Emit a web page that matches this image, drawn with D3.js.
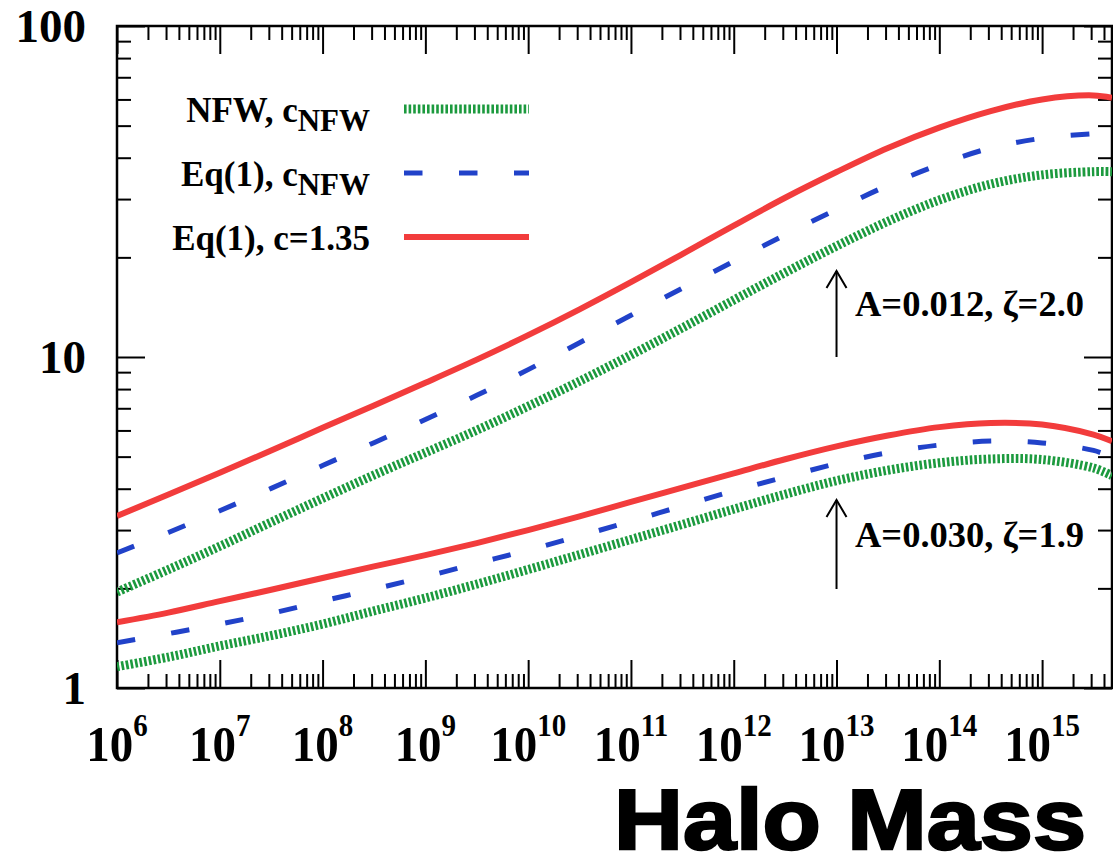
<!DOCTYPE html>
<html>
<head>
<meta charset="utf-8">
<script src="https://cdn.jsdelivr.net/npm/d3@7"></script>
<style>
  html, body { margin: 0; padding: 0; background: #ffffff; }
  svg { display: block; }
</style>
</head>
<body>
<svg id="chart" width="1113" height="857"></svg>
<script>
// ---------------- data ----------------
// log10 of the halo mass at each sample
const massExponent = [6, 6.5, 7, 7.5, 8, 8.5, 9, 9.5, 10, 10.5, 11, 11.5, 12, 12.5, 13, 13.5, 14, 14.5, 15, 15.5, 15.68];

// upper group: A=0.012, zeta=2.0
const nfwUpper     = [1.95, 2.28, 2.68, 3.17, 3.74, 4.40, 5.14, 6.01, 7.10, 8.45, 10.14, 12.25, 14.86, 17.99, 21.63, 25.7, 29.8, 33.3, 35.5, 36.3, 36.3];
const eq1NfwUpper  = [2.56, 2.95, 3.43, 4.01, 4.70, 5.51, 6.47, 7.66, 9.16, 11.04, 13.37, 16.14, 19.45, 23.4, 27.9, 33.0, 38.1, 42.8, 45.8, 47.3, 47.6];
const eq1C135Upper = [3.31, 3.84, 4.47, 5.22, 6.11, 7.14, 8.36, 9.82, 11.64, 13.93, 16.83, 20.46, 24.95, 30.27, 36.2, 42.8, 49.3, 55.3, 60.0, 61.7, 60.7];

// lower group: A=0.030, zeta=1.9
const nfwLower     = [1.16, 1.24, 1.34, 1.44, 1.56, 1.71, 1.87, 2.06, 2.28, 2.53, 2.81, 3.12, 3.47, 3.85, 4.23, 4.55, 4.79, 4.92, 4.90, 4.62, 4.38];
const eq1NfwLower  = [1.37, 1.46, 1.56, 1.68, 1.83, 1.99, 2.17, 2.38, 2.61, 2.88, 3.19, 3.55, 3.94, 4.34, 4.76, 5.14, 5.42, 5.57, 5.50, 5.22, 4.98];
const eq1C135Lower = [1.58, 1.69, 1.83, 1.98, 2.15, 2.33, 2.52, 2.74, 3.00, 3.30, 3.65, 4.03, 4.45, 4.91, 5.37, 5.79, 6.14, 6.32, 6.25, 5.83, 5.57];

// axis ticks / labels
const xMajorExponents = [6, 7, 8, 9, 10, 11, 12, 13, 14, 15];
const yMajorTicks = [1, 10, 100];
const yTickLabels = ["1", "10", "100"];

// legend & annotations
const legendLabels = [
  { main: "NFW, c", sub: "NFW", style: "nfw" },
  { main: "Eq(1), c", sub: "NFW", style: "eq1nfw" },
  { main: "Eq(1), c=1.35", sub: "", style: "eq1c" }
];
const annotationTexts = ["A=0.012, \u03B6=2.0", "A=0.030, \u03B6=1.9"];
const annotationMassExp = [13, 13];
const xAxisTitle = "Halo Mass";

// ---------------- drawing ----------------
const W = 1113, H = 857;
const mLeft = 117, mRight = 1112, mTop = 26, mBottom = 688;
const xMax = Math.pow(10, 15.68);

const x = d3.scaleLog().domain([1e6, xMax]).range([mLeft, mRight]);
const y = d3.scaleLog().domain([1, 100]).range([mBottom, mTop]);

const svg = d3.select("#chart");
svg.append("rect").attr("width", W).attr("height", H).attr("fill", "#fff");

const styles = {
  nfw:    { color: "#1c9a3e", width: 9, dash: "2.6,2" },
  eq1nfw: { color: "#2142c9", width: 5, dash: "18.5,36.5" },
  eq1c:   { color: "#f23c3c", width: 6, dash: null }
};

// minor tick values
const xMinor = [];
for (let e = 6; e <= 15; e++) for (let k = 2; k <= 9; k++) {
  const v = k * Math.pow(10, e);
  if (v < xMax) xMinor.push(v);
}
const xMajor = xMajorExponents.map(e => Math.pow(10, e));
const yMinor = [];
for (let e = 0; e <= 1; e++) for (let k = 2; k <= 9; k++) yMinor.push(k * Math.pow(10, e));

function styleAxis(g) {
  g.select(".domain").remove();
  g.selectAll("line").attr("stroke", "#000").attr("stroke-width", 2);
  g.selectAll("text").remove();
}
// bottom
svg.append("g").attr("transform", `translate(0,${mBottom})`)
  .call(d3.axisBottom(x).tickValues(xMinor).tickSize(-14).tickFormat("")).call(styleAxis);
svg.append("g").attr("transform", `translate(0,${mBottom})`)
  .call(d3.axisBottom(x).tickValues(xMajor).tickSize(-28).tickFormat("")).call(styleAxis);
// top
svg.append("g").attr("transform", `translate(0,${mTop})`)
  .call(d3.axisTop(x).tickValues(xMinor).tickSize(-14).tickFormat("")).call(styleAxis);
svg.append("g").attr("transform", `translate(0,${mTop})`)
  .call(d3.axisTop(x).tickValues(xMajor).tickSize(-28).tickFormat("")).call(styleAxis);
// left
svg.append("g").attr("transform", `translate(${mLeft},0)`)
  .call(d3.axisLeft(y).tickValues(yMinor).tickSize(-14).tickFormat("")).call(styleAxis);
svg.append("g").attr("transform", `translate(${mLeft},0)`)
  .call(d3.axisLeft(y).tickValues(yMajorTicks).tickSize(-28).tickFormat("")).call(styleAxis);
// right
svg.append("g").attr("transform", `translate(${mRight},0)`)
  .call(d3.axisRight(y).tickValues(yMinor).tickSize(-14).tickFormat("")).call(styleAxis);
svg.append("g").attr("transform", `translate(${mRight},0)`)
  .call(d3.axisRight(y).tickValues(yMajorTicks).tickSize(-28).tickFormat("")).call(styleAxis);

// frame
svg.append("rect").attr("x", mLeft).attr("y", mTop)
  .attr("width", mRight - mLeft).attr("height", mBottom - mTop)
  .attr("fill", "none").attr("stroke", "#000").attr("stroke-width", 2.5);

// tick labels
const serif = "'Liberation Serif', 'Times New Roman', serif";
svg.append("g").selectAll("text").data(yMajorTicks).join("text")
  .attr("x", 86).attr("y", d => y(d) + 16)
  .attr("text-anchor", "end")
  .attr("font-family", serif).attr("font-weight", "bold").attr("font-size", 47)
  .text((d, i) => yTickLabels[i]);

const xl = svg.append("g").selectAll("text").data(xMajorExponents).join("text")
  .attr("transform", d => `translate(${x(Math.pow(10, d))},761) scale(1,1.1)`)
  .attr("text-anchor", "middle")
  .attr("font-family", serif).attr("font-weight", "bold").attr("font-size", 47);
xl.append("tspan").text("10");
xl.append("tspan").attr("dy", -23).attr("font-size", 29).text(d => d);

// curves
const defs = svg.append("defs");
defs.append("clipPath").attr("id", "plotclip").append("rect")
  .attr("x", mLeft).attr("y", mTop).attr("width", mRight - mLeft).attr("height", mBottom - mTop);

const line = d3.line()
  .x((d, i) => x(Math.pow(10, massExponent[i])))
  .y(d => y(d))
  .curve(d3.curveCatmullRom.alpha(0.5));

const series = [
  { values: nfwUpper, style: "nfw" },
  { values: nfwLower, style: "nfw" },
  { values: eq1NfwUpper, style: "eq1nfw" },
  { values: eq1NfwLower, style: "eq1nfw" },
  { values: eq1C135Upper, style: "eq1c" },
  { values: eq1C135Lower, style: "eq1c" }
];
const curves = svg.append("g").attr("clip-path", "url(#plotclip)");
series.forEach(s => {
  const st = styles[s.style];
  curves.append("path").datum(s.values)
    .attr("d", line)
    .attr("fill", "none")
    .attr("stroke", st.color)
    .attr("stroke-width", st.width)
    .attr("stroke-dasharray", st.dash);
});

// legend
const legendRowY = [109, 173, 237];
legendLabels.forEach((L, i) => {
  const st = styles[L.style];
  const yy = legendRowY[i];
  svg.append("line").attr("x1", 404).attr("x2", 529).attr("y1", yy).attr("y2", yy)
    .attr("stroke", st.color).attr("stroke-width", st.width)
    .attr("stroke-dasharray", st.dash);
  const t = svg.append("text").attr("x", 370).attr("y", yy + 13)
    .attr("text-anchor", "end")
    .attr("font-family", serif).attr("font-weight", "bold").attr("font-size", 35);
  t.append("tspan").text(L.main);
  if (L.sub) t.append("tspan").attr("dy", 9).attr("font-size", 31).text(L.sub);
});

// annotations with arrows
const annoTextY = [316, 547];
const arrowTipY = [271, 500];
const arrowTailY = [357, 589];
annotationTexts.forEach((txt, i) => {
  const ax = x(Math.pow(10, annotationMassExp[i]));
  const g = svg.append("g").attr("stroke", "#000").attr("stroke-width", 2).attr("fill", "none");
  g.append("line").attr("x1", ax).attr("x2", ax).attr("y1", arrowTipY[i]).attr("y2", arrowTailY[i]);
  g.append("path").attr("d", `M${ax - 10},${arrowTipY[i] + 17} L${ax},${arrowTipY[i]} L${ax + 10},${arrowTipY[i] + 17}`);
  svg.append("text").attr("x", 855).attr("y", annoTextY[i])
    .attr("font-family", serif).attr("font-weight", "bold").attr("font-size", 36.5)
    .text(txt);
});

// axis title
svg.append("text").attr("x", 614).attr("y", 849)
  .attr("font-family", "'Liberation Sans', Arial, sans-serif").attr("font-weight", "bold")
  .attr("font-size", 86)
  .attr("stroke", "#000").attr("stroke-width", 2.5)
  .attr("textLength", 472).attr("lengthAdjust", "spacingAndGlyphs")
  .text(xAxisTitle);
</script>
</body>
</html>
